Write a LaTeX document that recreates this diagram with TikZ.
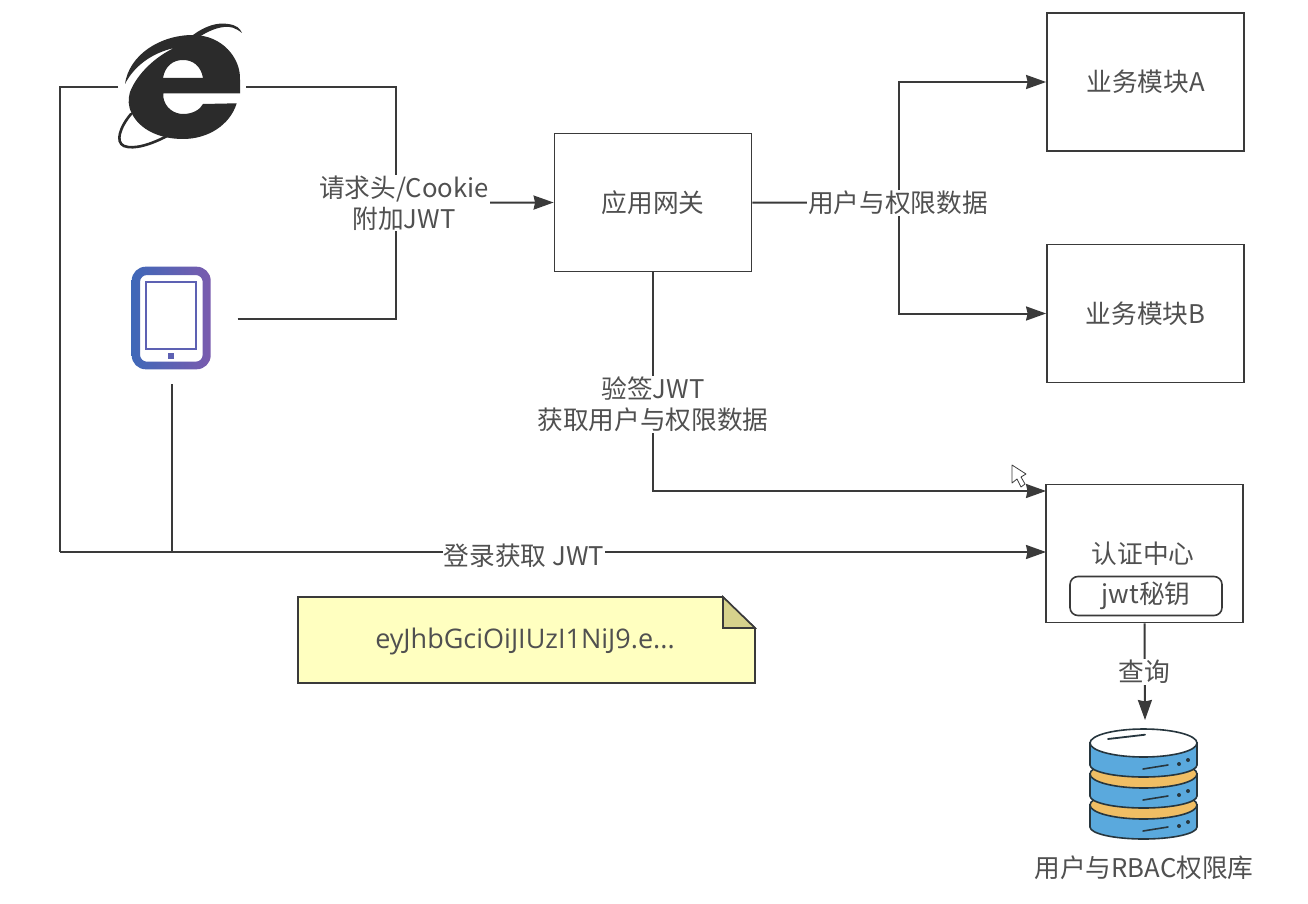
\documentclass[tikz,border=0pt]{standalone}
\usepackage{fontspec}
\setmainfont{Noto Sans CJK SC}
\newfontfamily\notefont{Open Sans}
\usetikzlibrary{arrows.meta,positioning,calc}
\definecolor{jwInk}  {HTML}{3A3A3A}
\definecolor{jwText} {HTML}{505050}
\definecolor{jwIcon} {HTML}{2B2B2B}
\definecolor{jwNote} {HTML}{FFFFC0}
\definecolor{jwFold} {HTML}{D6D28C}
\definecolor{jwBlue} {HTML}{5AA9DD}
\definecolor{jwGold} {HTML}{F0BE64}
\definecolor{jwSlate}{HTML}{27363E}
\definecolor{jwPadL} {HTML}{3F68B8}
\definecolor{jwPadR} {HTML}{7A5BAE}
\tikzset{
  box/.style={draw=jwInk,line width=1.8pt,fill=white,minimum width=197pt,minimum height=138pt,
    inner sep=0pt,text=jwText,font=\fontsize{25.7}{30}\selectfont},
  flow/.style={draw=jwInk,line width=2pt},
  tip/.style={-{Stealth[length=20pt,width=14pt,inset=1.5pt]}},
  lbl/.style={fill=white,inner sep=1pt,text=jwText,align=center,
    font=\fontsize{25.7}{31}\selectfont},
  icon/.style={inner sep=0pt,outer sep=0pt},
}
\begin{document}
\begin{tikzpicture}[x=1pt,y=-1pt]
  \useasboundingbox (0,0) rectangle (1308,904);
  \fill[white] (0,0) rectangle (1308,904);

  % boxes
  \node[box] (gateway) at (653,202.5) {应用网关};
  \node[box] (moda) at (1145.5,82) {业务模块A};
  \node[box] (modb) at (1145.5,313.5) {业务模块B};
  \node[box] (auth) at (1144.5,553.5) {};
  \node[text=jwText,font=\fontsize{25.7}{30}\selectfont] (authname) at (1143,554) {认证中心};
  \node[draw=jwInk,line width=1.6pt,rounded corners=8pt,minimum width=152pt,minimum height=39pt,
        inner sep=0pt,text=jwText,font=\fontsize{25.7}{30}\selectfont] (secret) at (1146,596) {jwt秘钥};

  % device icons only reserve room, shapes come below
  \node[icon,minimum width=128pt,minimum height=20pt] (ie) at (182,87) {};
  \node[icon,minimum width=131pt,minimum height=130pt] (pad) at (172,319) {};
  \node[icon,minimum width=108pt,minimum height=120pt] (db) at (1145,780) {};

  \coordinate (merge) at (396,203);
  \coordinate (fork) at (899,203);
  \coordinate (joint) at (60,552);
  \coordinate (loginin) at (1046,552);
  \coordinate (verifyin) at (1046,491);

  % connectors
  \draw[flow] (ie.east) -| (merge);
  \draw[flow] (pad.east) -| (merge);
  \draw[flow,tip] (merge) -- (gateway.west);
  \draw[flow] (gateway.east) -- (fork);
  \draw[flow,tip] (fork) |- (moda.west);
  \draw[flow,tip] (fork) |- (modb.west);
  \draw[flow,tip] (gateway.south) |- (verifyin);
  \draw[flow] (ie.west) -| (joint);
  \draw[flow] (pad.south) -- (pad.south |- joint);
  \draw[flow,tip] (joint) -- (loginin);
  \draw[flow,tip] (auth.south) -- (db.north);

  % labels sit on the lines
  \node[lbl] (headers) at (404,203) {请求头/Cookie\\附加JWT};
  \node[lbl] (payload) at (898,203) {用户与权限数据};
  \node[lbl] (verify) at (653,404.5) {验签JWT\\获取用户与权限数据};
  \node[lbl] (login) at (524,556) {登录获取 JWT};
  \node[lbl] (query) at (1144.5,672) {查询};
  \node[text=jwText,inner sep=0pt,font=\fontsize{25.7}{30}\selectfont] (dbname) at (1144,868) {用户与RBAC权限库};

  % note with folded corner
  \draw[draw=jwInk,line width=1.6pt,fill=jwNote] (298,597) -- (723,597) -- (755,628) -- (755,683) -- (298,683) -- cycle;
  \draw[draw=jwInk,line width=1.6pt,fill=jwFold] (723,597) -- (755,628) -- (723,628) -- cycle;
  \node[text=jwText,inner sep=0pt,font=\notefont\fontsize{27}{30}\selectfont] (token) at (525,641) {eyJhbGciOiJIUzI1NiJ9.e...};

  % browser logo
  \fill[jwIcon,even odd rule] (125,84) .. controls (129,55) and (160,35) .. (193,35)
    .. controls (222,35) and (241,58) .. (240,80) -- (240,93.3) -- (163.3,93.3) -- (163.3,97)
    .. controls (165,108) and (174,114) .. (183.3,114) .. controls (192,114) and (200,110) .. (203,104)
    -- (236.7,103.3) .. controls (230,125) and (208,139) .. (183,139)
    .. controls (160,139) and (140,130) .. (131.7,113.3)
    .. controls (128,106) and (128,99) .. (130,92)
    .. controls (137,74) and (155,57) .. (174,48)
    .. controls (152,53) and (134,66) .. (125,84) -- cycle
    (163,78) .. controls (165,66) and (173,60) .. (183,60) .. controls (193,60) and (201,66) .. (203,78) -- cycle;
  \fill[jwIcon] (193,35) .. controls (205,26) and (218,22) .. (228,24) .. controls (236,25) and (240,28) .. (242,33)
    .. controls (236,28) and (230,26) .. (224,27) .. controls (215,28) and (207,32) .. (199,37) -- cycle;
  \draw[jwIcon,line width=2.6pt,line cap=round] (131,114) .. controls (120,127) and (115,142) .. (124,146)
    .. controls (134,150) and (152,144) .. (167,136);

  % tablet
  \shade[left color=jwPadL,right color=jwPadR,even odd rule]
    [rounded corners=14pt] (131.7,266.7) rectangle (210.7,369.3)
    [rounded corners=7pt] (140,275) rectangle (202.7,361.7);
  \draw[jwPadL!50!jwPadR,line width=2.2pt] (146,282) rectangle (196,349);
  \fill[jwPadL!50!jwPadR] (168.3,353.3) rectangle (173.7,358.7);

  % database stack, bottom slice first
  \foreach \lift/\disc in {62/jwGold,31/jwGold,0/white}{
    \draw[jwSlate,line width=1.6pt,fill=jwBlue] (1090,{743+\lift}) -- (1090,{765+\lift})
      arc[start angle=180,end angle=0,x radius=53.5,y radius=12] -- (1197,{743+\lift}) -- cycle;
    \fill[jwSlate] (1179,{764+\lift}) circle (2);
    \fill[jwSlate] (1188,{760+\lift}) circle (2);
    \draw[jwSlate,line width=1.6pt,line cap=round] (1143,{769+\lift}) -- (1168,{765+\lift});
    \draw[jwSlate,line width=1.6pt,fill=\disc] (1143.5,{743+\lift}) ellipse[x radius=53.5,y radius=14];
  }
  \draw[jwSlate,line width=1.8pt,line cap=round] (1108,739) -- (1145,734.7);

  % pointer
  \draw[jwInk,line width=0.8pt,fill=white,line join=round] (1012,465) -- (1012,483) -- (1017,479) -- (1021,487)
    -- (1025,484) -- (1021,477) -- (1026,474) -- cycle;
\end{tikzpicture}
\end{document}
